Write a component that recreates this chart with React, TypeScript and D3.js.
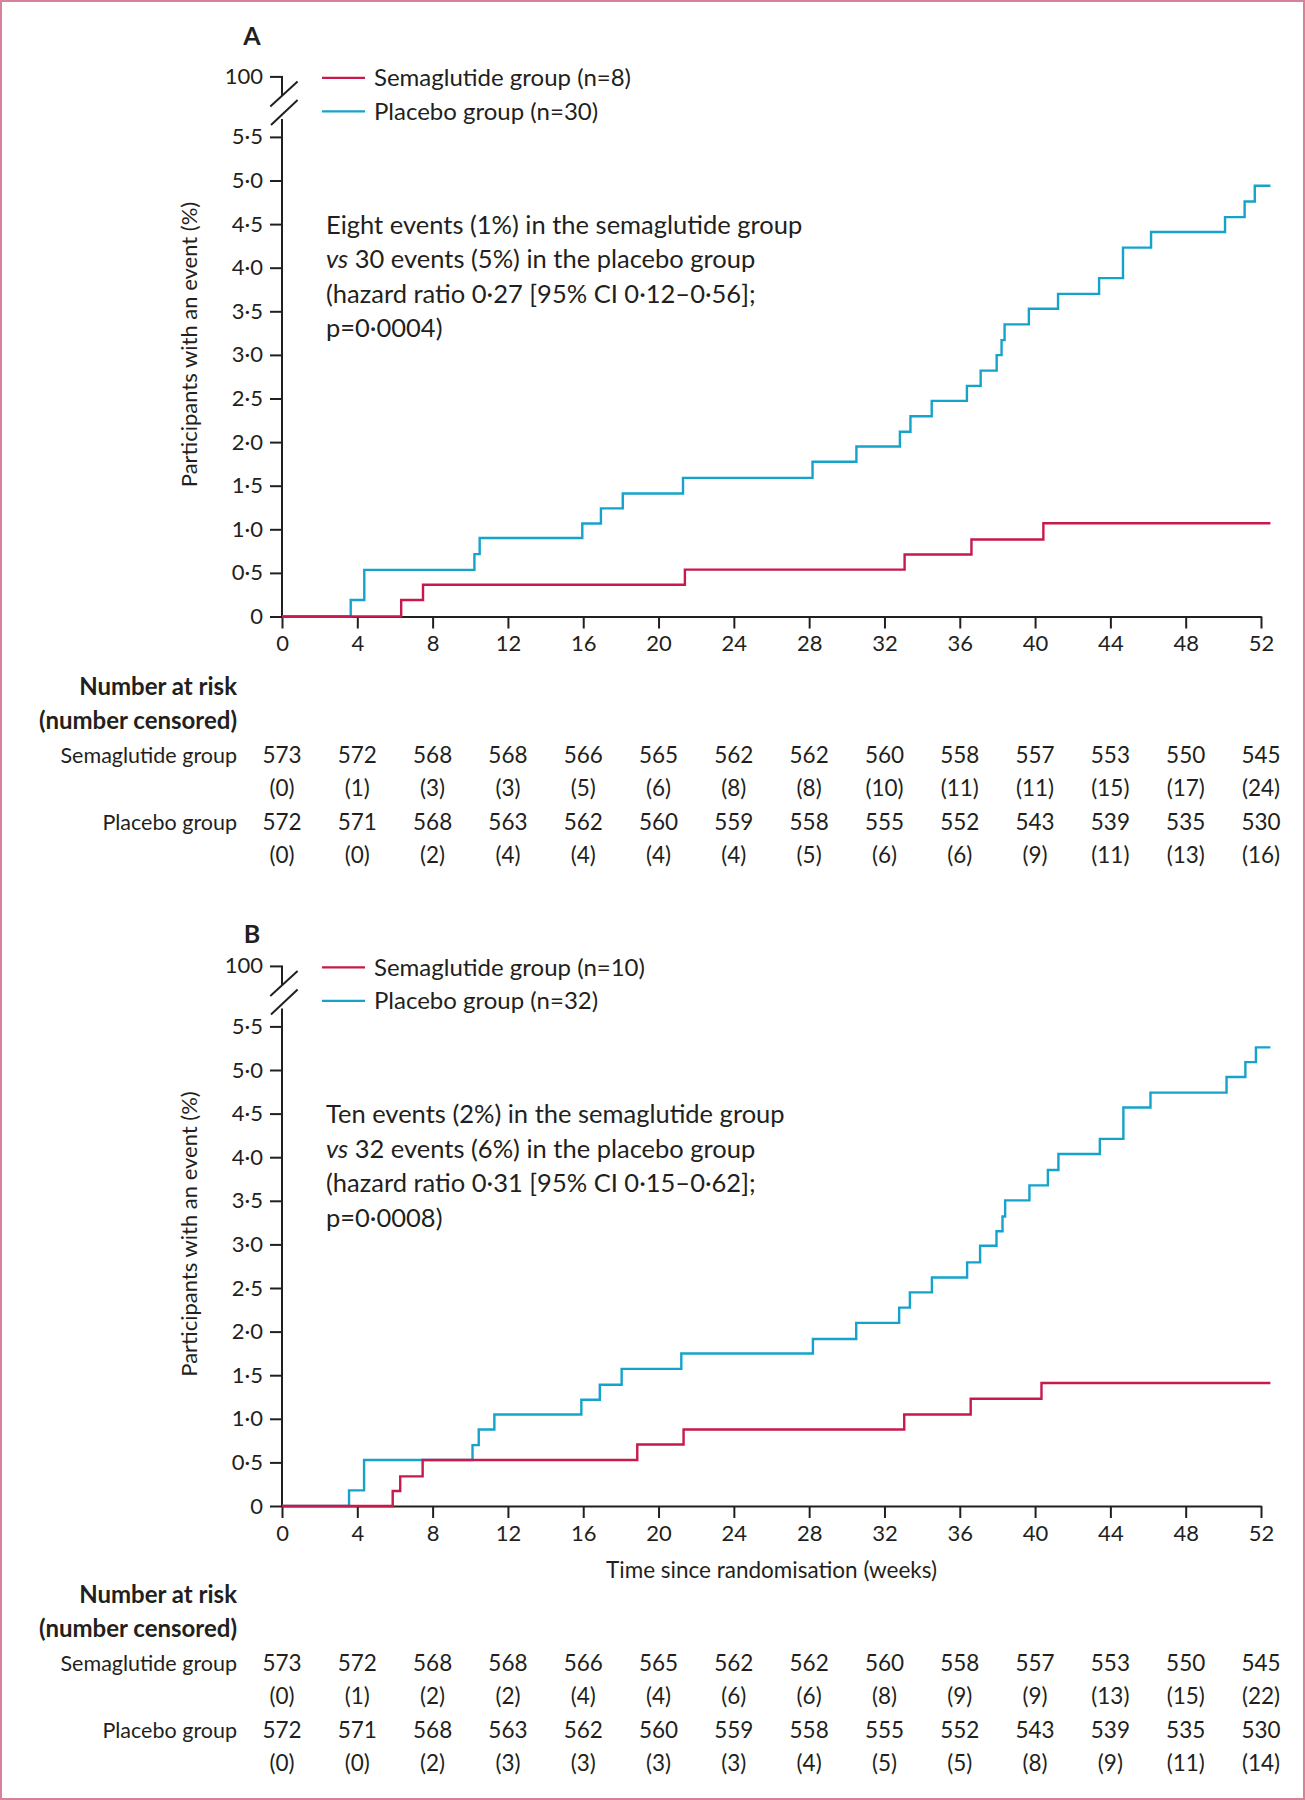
import React, { useEffect, useRef } from 'react';
import * as d3 from 'd3';

const W = 1305;
const H = 1800;

const weekTicks = [0, 4, 8, 12, 16, 20, 24, 28, 32, 36, 40, 44, 48, 52];
const pctTicks = [0, 0.5, 1, 1.5, 2, 2.5, 3, 3.5, 4, 4.5, 5, 5.5];
const endWeek = 52.5;

// panel A — step times (weeks) and cumulative % after each step
const semaWeeksA = [6.33, 7.49, 21.4, 33.07, 36.62, 40.44];
const semaPctA = [0.19, 0.364, 0.537, 0.711, 0.883, 1.07];
const placWeeksA = [3.65, 4.37, 10.22, 10.5, 15.95, 16.94, 18.1, 21.3, 28.18, 30.51, 32.82, 33.38, 34.51, 36.38, 37.11, 37.96, 38.22, 38.38, 39.67, 41.22, 43.4, 44.67, 46.16, 50.09, 51.13, 51.67];
const placPctA = [0.19, 0.535, 0.715, 0.9, 1.067, 1.24, 1.41, 1.59, 1.774, 1.95, 2.118, 2.297, 2.473, 2.645, 2.82, 2.997, 3.17, 3.35, 3.53, 3.7, 3.88, 4.23, 4.41, 4.58, 4.76, 4.94];

// panel B
const semaWeeksB = [5.88, 6.28, 7.47, 18.87, 21.33, 33.05, 36.58, 40.34];
const semaPctB = [0.172, 0.34, 0.527, 0.706, 0.878, 1.05, 1.23, 1.41];
const placWeeksB = [3.56, 4.36, 10.12, 10.45, 11.28, 15.9, 16.88, 18.04, 21.21, 28.2, 30.5, 32.78, 33.35, 34.52, 36.39, 37.08, 37.95, 38.27, 38.41, 39.7, 40.68, 41.24, 43.44, 44.69, 46.13, 50.17, 51.17, 51.73];
const placPctB = [0.179, 0.527, 0.698, 0.878, 1.05, 1.218, 1.39, 1.573, 1.748, 1.916, 2.1, 2.275, 2.45, 2.62, 2.794, 2.985, 3.15, 3.32, 3.505, 3.677, 3.853, 4.037, 4.21, 4.57, 4.74, 4.92, 5.09, 5.26];

// number at risk (number censored)
const riskSema = [573, 572, 568, 568, 566, 565, 562, 562, 560, 558, 557, 553, 550, 545];
const riskPlac = [572, 571, 568, 563, 562, 560, 559, 558, 555, 552, 543, 539, 535, 530];
const censSemaA = [0, 1, 3, 3, 5, 6, 8, 8, 10, 11, 11, 15, 17, 24];
const censPlacA = [0, 0, 2, 4, 4, 4, 4, 5, 6, 6, 9, 11, 13, 16];
const censSemaB = [0, 1, 2, 2, 4, 4, 6, 6, 8, 9, 9, 13, 15, 22];
const censPlacB = [0, 0, 2, 3, 3, 3, 3, 4, 5, 5, 8, 9, 11, 14];

const legendA = ['Semaglutide group (n=8)', 'Placebo group (n=30)'];
const legendB = ['Semaglutide group (n=10)', 'Placebo group (n=32)'];
const noteA = ['Eight events (1%) in the semaglutide group', '30 events (5%) in the placebo group', '(hazard ratio 0·27 [95% CI 0·12–0·56];', 'p=0·0004)'];
const noteB = ['Ten events (2%) in the semaglutide group', '32 events (6%) in the placebo group', '(hazard ratio 0·31 [95% CI 0·15–0·62];', 'p=0·0008)'];

const RED = '#c8194c';
const CYAN = '#16a3cb';
const INK = '#231f20';
const FONT = 'Lato, "Open Sans", sans-serif';

const panels = [
  { letter: 'A', oy: 0, letterY: 36, legend: legendA, note: noteA, sema: [semaWeeksA, semaPctA], plac: [placWeeksA, placPctA], cens: [censSemaA, censPlacA], tableY: 687, xTitle: false },
  { letter: 'B', oy: 889.5, letterY: 934, legend: legendB, note: noteB, sema: [semaWeeksB, semaPctB], plac: [placWeeksB, placPctB], cens: [censSemaB, censPlacB], tableY: 1595, xTitle: true },
];

const fmtPct = (d: number) => (d === 0 ? '0' : d3.format('.1f')(d).replace('.', '·'));

function drawPanel(svg: any, p: any) {
  const axisY = 616.5 + p.oy;
  const x = d3.scaleLinear().domain([0, 52]).range([282, 1261]);
  const y = d3.scaleLinear().domain([0, 5.5]).range([axisY, axisY - 479.6]);
  const x0 = x(0);
  const top100 = y(5.5) - 60;
  const g = svg.append('g').attr('font-family', FONT).attr('fill', INK);

  g.append('text')
    .attr('x', 252).attr('y', p.letterY).attr('dy', '0.35em')
    .attr('text-anchor', 'middle').attr('font-weight', 700).attr('font-size', 25)
    .text(p.letter);

  // x axis
  const xAxis = g.append('g')
    .attr('transform', `translate(0,${axisY})`)
    .call(d3.axisBottom(x).tickValues(weekTicks).tickSize(12).tickSizeOuter(0).tickPadding(7));
  xAxis.attr('font-family', FONT).attr('font-size', 22);
  xAxis.select('.domain').attr('stroke', INK).attr('stroke-width', 2);
  xAxis.selectAll('line').attr('stroke', INK).attr('stroke-width', 2);
  xAxis.selectAll('text').attr('fill', INK);

  // y axis (with break up to 100)
  const yAxis = g.append('g')
    .attr('transform', `translate(${x0},0)`)
    .call(d3.axisLeft(y).tickValues(pctTicks).tickSize(12).tickSizeOuter(0).tickPadding(7).tickFormat(fmtPct as any));
  yAxis.attr('font-family', FONT).attr('font-size', 22);
  yAxis.select('.domain').remove();
  yAxis.selectAll('line').attr('stroke', INK).attr('stroke-width', 2);
  yAxis.selectAll('text').attr('fill', INK);

  const ax = g.append('g').attr('stroke', INK).attr('stroke-width', 2).attr('fill', 'none');
  ax.append('line').attr('x1', x0).attr('x2', x0).attr('y1', axisY + 1).attr('y2', y(5.5) - 18);
  ax.append('line').attr('x1', x0).attr('x2', x0).attr('y1', top100).attr('y2', top100 + 19);
  ax.append('line').attr('x1', x0 - 12).attr('x2', x0 + 1).attr('y1', top100).attr('y2', top100);
  ax.append('line').attr('x1', x0 - 11.7).attr('y1', top100 + 29.7).attr('x2', x0 + 15.6).attr('y2', top100 + 4.7);
  ax.append('line').attr('x1', x0 - 11).attr('y1', top100 + 48).attr('x2', x0 + 15.6).attr('y2', top100 + 23);
  g.append('text').attr('x', x0 - 19).attr('y', top100).attr('dy', '0.32em')
    .attr('text-anchor', 'end').attr('font-size', 22).text('100');

  // y title
  g.append('text')
    .attr('transform', `translate(189,${axisY - 272}) rotate(-90)`)
    .attr('text-anchor', 'middle').attr('dy', '0.35em').attr('font-size', 22)
    .text('Participants with an event (%)');

  // curves
  const line = d3.line<[number, number]>()
    .x(d => x(d[0])).y(d => y(d[1]))
    .curve(d3.curveStepAfter);
  const series = [
    { data: p.plac, color: CYAN },
    { data: p.sema, color: RED },
  ];
  series.forEach(s => {
    const [wk, pc] = s.data;
    const pts: [number, number][] = [[0, 0], ...wk.map((w: number, i: number) => [w, pc[i]] as [number, number]), [endWeek, pc[pc.length - 1]]];
    g.append('path').attr('d', line(pts)).attr('fill', 'none')
      .attr('stroke', s.color).attr('stroke-width', 2.4);
  });

  // legend
  [RED, CYAN].forEach((c, i) => {
    const ly = top100 + 1 + i * 33.5;
    g.append('line').attr('x1', 322).attr('x2', 365).attr('y1', ly).attr('y2', ly)
      .attr('stroke', c).attr('stroke-width', 2.4);
    g.append('text').attr('x', 374).attr('y', ly).attr('dy', '0.35em').attr('font-size', 24)
      .text(p.legend[i]);
  });

  // annotation
  p.note.forEach((t: string, i: number) => {
    const tx = g.append('text').attr('x', 326).attr('y', axisY - 391.5 + i * 34.4)
      .attr('dy', '0.35em').attr('font-size', 25.5);
    if (i === 1) {
      tx.append('tspan').attr('font-style', 'italic').text('vs');
      tx.append('tspan').text(' ' + t);
    } else tx.text(t);
  });

  if (p.xTitle) {
    g.append('text').attr('x', (x(0) + x(52)) / 2).attr('y', axisY + 64).attr('dy', '0.35em')
      .attr('text-anchor', 'middle').attr('font-size', 22.5)
      .text('Time since randomisation (weeks)');
  }

  // number at risk table
  const rows = [0, 33.3, 68.3, 101.6, 135, 168.3].map(d => p.tableY + d);
  const labelX = 237;
  g.append('text').attr('x', labelX).attr('y', rows[0]).attr('dy', '0.35em')
    .attr('text-anchor', 'end').attr('font-weight', 700).attr('font-size', 24).text('Number at risk');
  g.append('text').attr('x', labelX).attr('y', rows[1]).attr('dy', '0.35em')
    .attr('text-anchor', 'end').attr('font-weight', 700).attr('font-size', 24).text('(number censored)');
  g.append('text').attr('x', labelX).attr('y', rows[2]).attr('dy', '0.35em')
    .attr('text-anchor', 'end').attr('font-size', 21.5).text('Semaglutide group');
  g.append('text').attr('x', labelX).attr('y', rows[4]).attr('dy', '0.35em')
    .attr('text-anchor', 'end').attr('font-size', 21.5).text('Placebo group');

  const tableRows = [
    { vals: riskSema, y: rows[2], paren: false },
    { vals: p.cens[0], y: rows[3], paren: true },
    { vals: riskPlac, y: rows[4], paren: false },
    { vals: p.cens[1], y: rows[5], paren: true },
  ];
  tableRows.forEach(r => {
    g.append('g').selectAll('text').data(r.vals).join('text')
      .attr('x', (_: number, i: number) => x(weekTicks[i]))
      .attr('y', r.y).attr('dy', '0.35em').attr('text-anchor', 'middle').attr('font-size', 22.5)
      .text((v: number) => (r.paren ? `(${v})` : `${v}`));
  });
}

export default function App() {
  const ref = useRef<SVGSVGElement>(null);

  useEffect(() => {
    if (!ref.current) return;
    const svg = d3.select(ref.current);
    svg.selectAll('*').remove();
    svg.append('rect')
      .attr('x', 1).attr('y', 1).attr('width', W - 2).attr('height', H - 2)
      .attr('fill', 'white').attr('stroke', '#d9809b').attr('stroke-width', 2);
    panels.forEach(p => drawPanel(svg, p));
  }, []);

  return (
    <svg
      ref={ref}
      width={W}
      height={H}
      style={{ position: 'absolute', left: 0, top: 0, display: 'block' }}
    />
  );
}
